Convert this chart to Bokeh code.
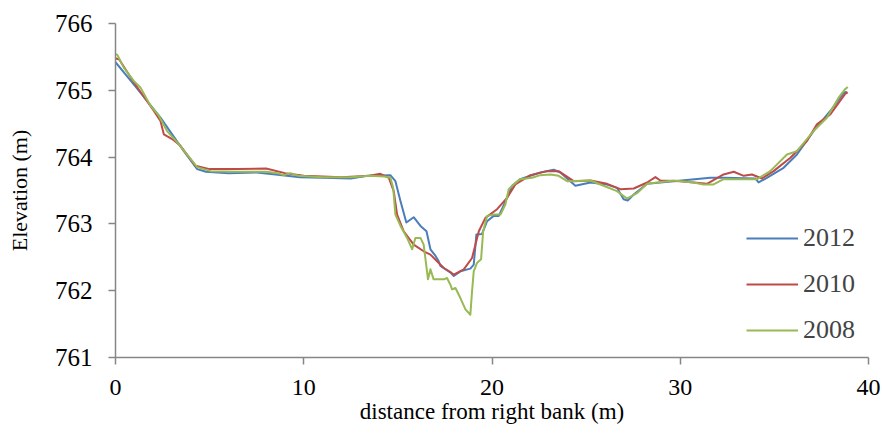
from bokeh.plotting import figure
from bokeh.models import Range1d, FixedTicker, Legend, LegendItem
from bokeh.embed import file_html
from bokeh.resources import INLINE

# ---- data ----
x_2012 = [0, 0.97, 2.39, 3.63, 4.34, 4.8, 6.0, 7.5, 8.5, 9.8, 11.0, 12.5, 13.37, 14.6, 14.87,
          15.14, 15.45, 15.84, 16.2, 16.52, 16.73, 17.0, 17.17, 17.26, 17.8, 17.97, 18.32, 18.85,
          19.03, 19.17, 19.47, 19.74, 20.09, 20.36, 20.8, 21.07, 21.5, 22.04, 22.57, 23.28, 23.63,
          24.43, 25.23, 26.11, 26.64, 26.99, 27.21, 27.53, 28.24, 29.65, 31.6, 32.3, 33.99, 34.16,
          34.6, 35.49, 36.2, 37.08, 37.97, 38.68, 38.85]
y_2012 = [765.42, 765.09, 764.59, 764.09, 763.82, 763.78, 763.76, 763.77, 763.74, 763.70, 763.69,
          763.68, 763.72, 763.73, 763.64, 763.34, 763.02, 763.10, 762.97, 762.89, 762.62, 762.52,
          762.44, 762.37, 762.27, 762.22, 762.29, 762.33, 762.39, 762.84, 762.85, 763.04, 763.12,
          763.12, 763.39, 763.57, 763.67, 763.72, 763.77, 763.81, 763.77, 763.57, 763.62, 763.59,
          763.54, 763.37, 763.35, 763.44, 763.60, 763.64, 763.69, 763.69, 763.68, 763.62, 763.69,
          763.84, 764.04, 764.39, 764.69, 764.96, 764.98]

x_2010 = [0, 0.2, 0.97, 2.04, 2.39, 2.57, 3.01, 3.45, 4.25, 5.0, 6.5, 8.0, 9.0, 10.0, 12.0, 13.5,
          14.07, 14.52, 14.78, 14.96, 15.31, 15.84, 16.37, 16.73, 17.08, 17.44, 17.79, 17.97, 18.5,
          18.94, 19.3, 19.65, 20.27, 20.8, 21.24, 22.04, 22.93, 23.54, 24.34, 25.23, 26.11, 26.82,
          27.53, 28.24, 28.68, 28.94, 30.0, 31.42, 32.3, 32.84, 33.37, 33.81, 34.34, 34.96, 35.85,
          36.73, 37.26, 37.97, 38.77, 38.9]
y_2010 = [765.48, 765.46, 765.12, 764.69, 764.54, 764.34, 764.27, 764.17, 763.87, 763.82, 763.82,
          763.83, 763.76, 763.72, 763.70, 763.72, 763.75, 763.69, 763.49, 763.14, 762.89, 762.69,
          762.59, 762.54, 762.44, 762.34, 762.28, 762.24, 762.32, 762.49, 762.89, 763.09, 763.22,
          763.39, 763.59, 763.73, 763.79, 763.79, 763.64, 763.65, 763.60, 763.52, 763.53, 763.62,
          763.70, 763.65, 763.64, 763.60, 763.74, 763.78, 763.72, 763.74, 763.68, 763.79, 763.99,
          764.24, 764.49, 764.64, 764.95, 764.97]

x_2008 = [0, 0.1, 0.44, 0.97, 1.33, 1.86, 2.30, 2.74, 3.28, 4.34, 5.05, 6.5, 8.0, 8.6, 8.94, 9.29,
          9.7, 11.0, 12.5, 13.5, 14.3, 14.6, 14.75, 14.87, 15.14, 15.49, 15.76, 15.93, 16.2, 16.37,
          16.6, 16.73, 16.9, 17.44, 17.61, 17.79, 17.88, 18.06, 18.32, 18.59, 18.85, 18.94, 19.03,
          19.21, 19.42, 19.53, 19.74, 20.09, 20.45, 20.71, 20.89, 21.07, 21.5, 22.13, 22.57, 23.1,
          23.54, 23.99, 25.23, 25.76, 26.64, 27.17, 27.7, 28.24, 29.65, 30.71, 31.24, 31.77, 32.3,
          33.19, 34.08, 34.78, 35.67, 36.2, 37.08, 37.79, 38.41, 38.77, 38.9]
y_2008 = [765.54, 765.53, 765.34, 765.14, 765.04, 764.77, 764.62, 764.39, 764.22, 763.85, 763.79,
          763.78, 763.78, 763.76, 763.73, 763.76, 763.72, 763.70, 763.70, 763.72, 763.71, 763.69,
          763.54, 763.14, 762.97, 762.79, 762.62, 762.79, 762.79, 762.69, 762.17, 762.32, 762.17,
          762.17, 762.19, 762.09, 762.02, 762.04, 761.89, 761.72, 761.64, 761.99, 762.29, 762.42,
          762.47, 762.89, 763.12, 763.14, 763.14, 763.29, 763.52, 763.57, 763.67, 763.69, 763.73,
          763.74, 763.72, 763.64, 763.65, 763.59, 763.49, 763.38, 763.46, 763.60, 763.65, 763.62,
          763.59, 763.59, 763.67, 763.67, 763.67, 763.79, 764.04, 764.09, 764.39, 764.59, 764.89,
          765.02, 765.05]

series_names = ["2012", "2010", "2008"]
x_ticks = [0, 10, 20, 30, 40]
y_ticks = [761, 762, 763, 764, 765, 766]

FONT = "Liberation Serif"
AXIS_COLOR = "#868686"

p = figure(frame_width=753, frame_height=334, output_backend="svg", toolbar_location=None,
           x_range=Range1d(0, 40), y_range=Range1d(761, 766),
           min_border_left=115, min_border_right=14, min_border_top=23, min_border_bottom=78)
p.outline_line_color = None
p.xgrid.visible = False
p.ygrid.visible = False
p.background_fill_color = "white"
p.border_fill_color = "white"

r12 = p.line(x_2012, y_2012, line_color="#4A7EBB", line_width=2, line_join="round")
r10 = p.line(x_2010, y_2010, line_color="#BE4B48", line_width=2, line_join="round")
r08 = p.line(x_2008, y_2008, line_color="#98B954", line_width=2, line_join="round")

for ax in (p.xaxis[0], p.yaxis[0]):
    ax.axis_line_color = AXIS_COLOR
    ax.axis_line_width = 1.5
    ax.major_tick_line_color = AXIS_COLOR
    ax.major_tick_line_width = 1.5
    ax.major_tick_out = 7
    ax.major_tick_in = 0
    ax.minor_tick_line_color = None
    ax.major_label_text_font = FONT
    ax.major_label_text_color = "black"
    ax.axis_label_text_font = FONT
    ax.axis_label_text_font_style = "normal"
    ax.axis_label_text_color = "black"

p.xaxis.ticker = FixedTicker(ticks=x_ticks)
p.yaxis.ticker = FixedTicker(ticks=y_ticks)
p.xaxis.major_label_text_font_size = "24px"
p.yaxis.major_label_text_font_size = "25px"
p.xaxis.major_label_standoff = 15
p.yaxis.major_label_standoff = 16
p.xaxis.axis_label = "distance from right bank (m)"
p.yaxis.axis_label = "Elevation (m)"
p.xaxis.axis_label_text_font_size = "23px"
p.yaxis.axis_label_text_font_size = "22px"
p.xaxis.axis_label_standoff = 1
p.yaxis.axis_label_standoff = 20

legend = Legend(items=[LegendItem(label=series_names[0], renderers=[r12]),
                       LegendItem(label=series_names[1], renderers=[r10]),
                       LegendItem(label=series_names[2], renderers=[r08])],
                location=(631, 4), orientation="vertical",
                border_line_color=None, background_fill_alpha=0,
                label_text_font=FONT, label_text_font_size="26px",
                glyph_width=52, glyph_height=46, label_height=46, label_standoff=5,
                spacing=0, padding=0, margin=0)
p.add_layout(legend)

open("out.html", "w").write(file_html(p, INLINE))
